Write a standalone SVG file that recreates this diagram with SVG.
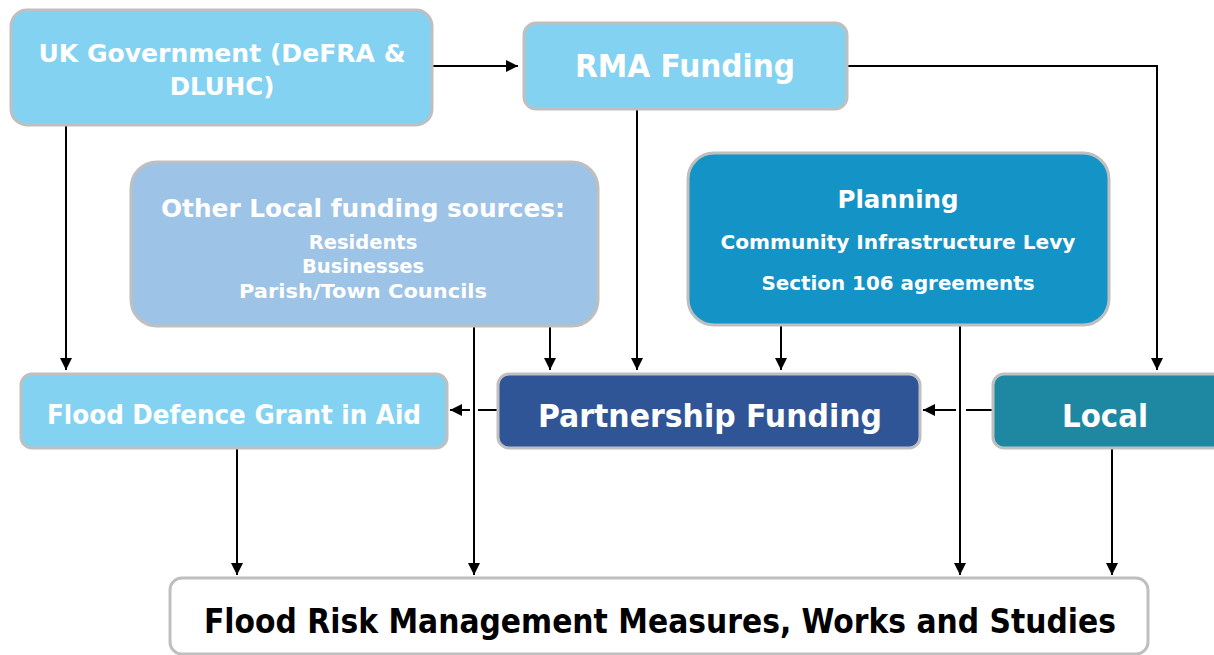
<svg xmlns="http://www.w3.org/2000/svg" width="1214" height="655" viewBox="0 0 1214 655">
<style>
.box{stroke:#bfbfbf;stroke-width:3}
.w{fill:#ffffff;font-family:"DejaVu Sans",Verdana,sans-serif;font-weight:bold;text-anchor:middle}
.c{fill:#ffffff;font-family:"DejaVu Sans Condensed","DejaVu Sans",sans-serif;font-weight:bold;font-stretch:condensed;text-anchor:middle}
.k{fill:#000000}
.ln{stroke:#000;stroke-width:2;fill:none}
</style>
<defs>
<marker id="ah" viewBox="0 0 10 10" refX="10" refY="5" markerWidth="12" markerHeight="12" markerUnits="userSpaceOnUse" orient="auto">
<path d="M0,0 L10,5 L0,10 z" fill="#000"/>
</marker>
</defs>
<g id="connectors">
<path class="ln" d="M432,66 H518" marker-end="url(#ah)"/>
<path class="ln" d="M66,125 V370" marker-end="url(#ah)"/>
<path class="ln" d="M637,109 V370" marker-end="url(#ah)"/>
<path class="ln" d="M847,66 H1157 V370" marker-end="url(#ah)"/>
<path class="ln" d="M474,326 V575" marker-end="url(#ah)"/>
<path class="ln" d="M550,326 V370" marker-end="url(#ah)"/>
<path class="ln" d="M781,325 V370" marker-end="url(#ah)"/>
<path class="ln" d="M960,325 V575" marker-end="url(#ah)"/>
<path class="ln" d="M497,410 H478"/>
<path class="ln" d="M470,410 H450" marker-end="url(#ah)"/>
<path class="ln" d="M992,410 H966"/>
<path class="ln" d="M956,410 H923" marker-end="url(#ah)"/>
<path class="ln" d="M237,448 V575" marker-end="url(#ah)"/>
<path class="ln" d="M1112,448 V575" marker-end="url(#ah)"/>
</g>
<g id="uk-government">
<rect class="box" x="11" y="10" width="421" height="115" rx="16" fill="#83d2f2"/>
<text class="w" x="222" y="62" font-size="24.5" textLength="367" lengthAdjust="spacingAndGlyphs">UK Government (DeFRA &amp;</text>
<text class="w" x="222" y="95" font-size="24.5">DLUHC)</text>
</g>
<g id="rma-funding">
<rect class="box" x="524" y="23" width="323" height="86" rx="12" fill="#83d2f2"/>
<text class="c" x="685" y="77" font-size="32" textLength="220" lengthAdjust="spacingAndGlyphs">RMA Funding</text>
</g>
<g id="other-local">
<rect class="box" x="131" y="162" width="467" height="164" rx="26" fill="#9dc3e6"/>
<text class="w" x="363" y="217" font-size="24.5" textLength="404" lengthAdjust="spacingAndGlyphs">Other Local funding sources:</text>
<text class="w" x="363" y="249" font-size="19.5">Residents</text>
<text class="w" x="363" y="273" font-size="19.5">Businesses</text>
<text class="w" x="363" y="298" font-size="19.5" textLength="248" lengthAdjust="spacingAndGlyphs">Parish/Town Councils</text>
</g>
<g id="planning">
<rect class="box" x="688" y="153" width="421" height="172" rx="26" fill="#1393c6"/>
<text class="w" x="898" y="208" font-size="24.5">Planning</text>
<text class="w" x="898" y="249" font-size="20" textLength="355" lengthAdjust="spacingAndGlyphs">Community Infrastructure Levy</text>
<text class="w" x="898" y="290" font-size="20" textLength="273" lengthAdjust="spacingAndGlyphs">Section 106 agreements</text>
</g>
<g id="flood-defence-gia">
<rect class="box" x="21" y="374" width="426" height="74" rx="11" fill="#83d2f2"/>
<text class="c" x="234" y="424" font-size="27" textLength="374" lengthAdjust="spacingAndGlyphs">Flood Defence Grant in Aid</text>
</g>
<g id="partnership-funding">
<rect class="box" x="498" y="374" width="422" height="74" rx="11" fill="#2f5597"/>
<text class="c" x="710" y="427" font-size="32.5" textLength="344" lengthAdjust="spacingAndGlyphs">Partnership Funding</text>
</g>
<g id="local">
<rect class="box" x="993" y="374" width="240" height="74" rx="11" fill="#1e88a3"/>
<text class="c" x="1105" y="427" font-size="32.5" textLength="86" lengthAdjust="spacingAndGlyphs">Local</text>
</g>
<g id="flood-risk-measures">
<rect class="box" x="170" y="578" width="978" height="76" rx="12" fill="#ffffff"/>
<text class="c k" x="660" y="633" font-size="33" textLength="912" lengthAdjust="spacingAndGlyphs">Flood Risk Management Measures, Works and Studies</text>
</g>
</svg>
